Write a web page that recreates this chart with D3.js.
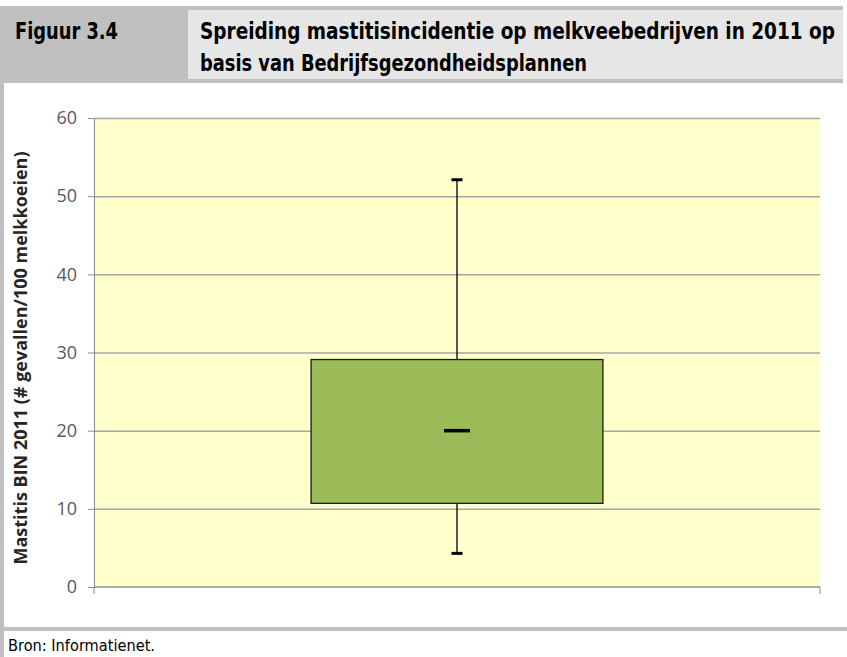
<!DOCTYPE html>
<html>
  <head>
    <meta charset="utf-8">
    <style>
      body { margin: 0; background: #fff; }
      svg { display: block; }
      .hdr { font-family: "Liberation Sans Narrow", "DejaVu Sans Condensed", sans-serif; font-weight: bold; fill: #000; font-size: 20px; }
      .grid line { stroke: #a6a6a6; stroke-width: 1.5; }
      .grid .domain { display: none; }
    </style>
    <script src="https://d3js.org/d3.v7.min.js"></script>
  </head>
  <body>
    <svg id="chart" width="847" height="657"></svg>

    <script>
      var categories = ["2011"];
      var whiskerLow = [4.3];
      var q1 = [10.7];
      var median = [20];
      var q3 = [29.1];
      var whiskerHigh = [52.1];
      var yTicks = [0, 10, 20, 30, 40, 50, 60];

      var svg = d3.select("#chart");

      // page frame: header cells, left border, footer rule
      svg.append("rect").attr("x", 0).attr("y", 6).attr("width", 843).attr("height", 77).attr("fill", "#c0c0c0");
      svg.append("rect").attr("x", 188).attr("y", 10).attr("width", 655).attr("height", 69).attr("fill", "#e6e6e6");
      svg.append("rect").attr("x", 0).attr("y", 83).attr("width", 4).attr("height", 574).attr("fill", "#c0c0c0");
      svg.append("rect").attr("x", 0).attr("y", 627).attr("width", 847).attr("height", 4).attr("fill", "#c0c0c0");

      // header texts, stretched a little in height like the condensed original
      function headerText(tx, ty, len, str) {
        svg.append("g").attr("transform", "translate(" + tx + "," + ty + ") scale(1,1.15)")
          .append("text").attr("class", "hdr")
          .attr("textLength", len).attr("lengthAdjust", "spacingAndGlyphs")
          .text(str);
      }
      headerText(15, 39, 103, "Figuur 3.4");
      headerText(200, 39, 635, "Spreiding mastitisincidentie op melkveebedrijven in 2011 op");
      headerText(200, 71, 387, "basis van Bedrijfsgezondheidsplannen");

      svg.append("text").attr("x", 8).attr("y", 651)
        .style("font-family", "'Liberation Sans Narrow', 'DejaVu Sans Condensed', sans-serif")
        .style("font-size", "16px").attr("fill", "#000")
        .attr("textLength", 147).attr("lengthAdjust", "spacingAndGlyphs")
        .text("Bron: Informatienet.");

      // plot
      var plotLeft = 94, plotRight = 820, plotTop = 118, plotBottom = 587;
      var y = d3.scaleLinear().domain([0, 60]).range([plotBottom, plotTop]);
      var x = d3.scaleBand().domain(categories).range([plotLeft, plotRight]).padding(0);

      svg.append("rect").attr("x", plotLeft).attr("y", plotTop)
        .attr("width", plotRight - plotLeft).attr("height", plotBottom - plotTop)
        .attr("fill", "#ffffcc");

      svg.append("g").attr("class", "grid")
        .attr("transform", "translate(" + plotLeft + ",0)")
        .call(d3.axisLeft(y).tickValues(yTicks.slice(1)).tickSize(-(plotRight - plotLeft)).tickFormat(""));

      var yAxis = svg.append("g")
        .attr("transform", "translate(" + plotLeft + ",0)")
        .call(d3.axisLeft(y).tickValues(yTicks).tickSize(6).tickPadding(11));
      yAxis.select(".domain").attr("stroke", "#8c8c8c");
      yAxis.selectAll(".tick line").attr("stroke", "#8c8c8c");
      yAxis.selectAll(".tick text")
        .attr("font-family", "'Open Sans', 'DejaVu Sans', sans-serif")
        .attr("font-size", 18).attr("fill", "#595959");

      // x axis line with end ticks
      var xAxis = svg.append("g");
      xAxis.append("line").attr("x1", plotLeft).attr("x2", plotRight)
        .attr("y1", y(0)).attr("y2", y(0)).attr("stroke", "#8c8c8c").attr("stroke-width", 1.5);
      xAxis.selectAll("line.end").data(x.range()).enter().append("line")
        .attr("class", "end")
        .attr("x1", function(d) { return d; }).attr("x2", function(d) { return d; })
        .attr("y1", y(0)).attr("y2", y(0) + 7).attr("stroke", "#8c8c8c");

      svg.append("text")
        .attr("transform", "translate(27,358) rotate(-90)")
        .attr("text-anchor", "middle")
        .attr("font-family", "'Open Sans', 'DejaVu Sans', sans-serif").attr("font-weight", "bold")
        .attr("font-size", 17).attr("fill", "#262626")
        .attr("textLength", 413).attr("lengthAdjust", "spacingAndGlyphs")
        .text("Mastitis BIN 2011 (# gevallen/100 melkkoeien)");

      // box plot
      var boxes = svg.append("g").selectAll("g").data(categories).enter().append("g");
      boxes.each(function(c, i) {
        var g = d3.select(this);
        var cx = x(c) + x.bandwidth() / 2;
        var bw = x.bandwidth() * 0.402;
        g.append("line").attr("x1", cx).attr("x2", cx)
          .attr("y1", y(whiskerHigh[i])).attr("y2", y(q3[i])).attr("stroke", "#000").attr("stroke-width", 1.3);
        g.append("line").attr("x1", cx).attr("x2", cx)
          .attr("y1", y(q1[i])).attr("y2", y(whiskerLow[i])).attr("stroke", "#000").attr("stroke-width", 1.3);
        g.append("rect").attr("x", cx - bw / 2).attr("y", y(q3[i]))
          .attr("width", bw).attr("height", y(q1[i]) - y(q3[i]))
          .attr("fill", "#9bbb59").attr("stroke", "#1a1a1a").attr("stroke-width", 1.3);
        g.append("line").attr("x1", cx - 13).attr("x2", cx + 13)
          .attr("y1", y(median[i])).attr("y2", y(median[i])).attr("stroke", "#000").attr("stroke-width", 3.5);
        [whiskerHigh[i], whiskerLow[i]].forEach(function(v) {
          g.append("line").attr("x1", cx - 5.5).attr("x2", cx + 5.5)
            .attr("y1", y(v)).attr("y2", y(v)).attr("stroke", "#000").attr("stroke-width", 3);
        });
      });
    </script>
  </body>
</html>
